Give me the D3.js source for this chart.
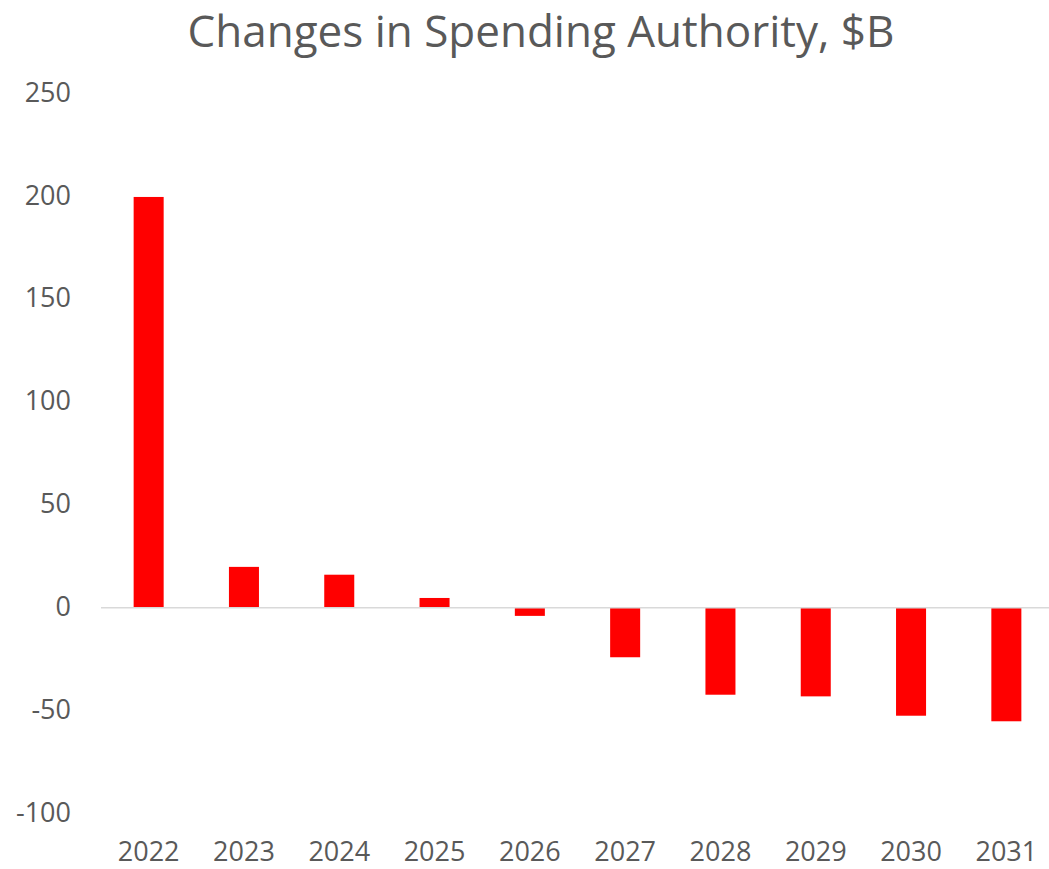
<!DOCTYPE html>
<html>
<head>
<meta charset="utf-8">
<script src="https://cdn.jsdelivr.net/npm/d3@7"></script>
<style>
  html, body { margin: 0; padding: 0; background: #fff; }
  svg { display: block; }
  text { font-family: "Open Sans", "Noto Sans", sans-serif; fill: #595959; }
</style>
</head>
<body>
<div id="chart"></div>
<script>
// Annual change in spending authority, billions of dollars
const years = ["2022", "2023", "2024", "2025", "2026", "2027", "2028", "2029", "2030", "2031"];
const changes = [199.5, 19.8, 16.0, 4.7, -4.0, -24.1, -42.3, -43.1, -52.5, -55.2];
const yTicks = [-100, -50, 0, 50, 100, 150, 200, 250];
const title = "Changes in Spending Authority, $B";

const width = 1049, height = 869;
const plot = { left: 101, right: 1054, top: 93, bottom: 813.5 };

const svg = d3.select("#chart").append("svg")
  .attr("width", width)
  .attr("height", height);

const x = d3.scaleBand()
  .domain(years)
  .range([plot.left, plot.right])
  .paddingInner(0.685)
  .paddingOuter(0.3425);

const y = d3.scaleLinear()
  .domain([-100, 250])
  .range([plot.bottom, plot.top]);

// Title
svg.append("text")
  .attr("x", 541)
  .attr("y", 47)
  .attr("text-anchor", "middle")
  .style("font-size", "44px")
  .text(title);

// Value axis labels (no axis line, no gridlines); plain hyphen for negatives
const yAxis = d3.axisLeft(y)
  .tickValues(yTicks)
  .tickFormat(d => String(d))
  .tickSize(0)
  .tickPadding(0);
const yg = svg.append("g")
  .attr("transform", "translate(71,0)")
  .call(yAxis);
yg.select(".domain").remove();
yg.selectAll("text")
  .style("font-size", "27px")
  .style("fill", "#595959")
  .attr("dy", "0.3em");

// Bars
svg.append("g")
  .selectAll("rect")
  .data(years.map((yr, i) => ({ yr, v: changes[i] })))
  .join("rect")
  .attr("x", d => x(d.yr))
  .attr("width", x.bandwidth())
  .attr("y", d => y(Math.max(0, d.v)))
  .attr("height", d => Math.abs(y(d.v) - y(0)))
  .attr("fill", "#FF0000");

// Zero baseline
svg.append("line")
  .attr("x1", plot.left)
  .attr("x2", plot.right)
  .attr("y1", y(0))
  .attr("y2", y(0))
  .attr("stroke", "#D9D9D9")
  .attr("stroke-width", 1.5);

// Category labels along the bottom
const xAxis = d3.axisBottom(x).tickSize(0).tickPadding(0);
const xg = svg.append("g")
  .attr("transform", "translate(0,861)")
  .call(xAxis);
xg.select(".domain").remove();
xg.selectAll("text")
  .style("font-size", "27px")
  .style("fill", "#595959")
  .attr("dy", "0");
</script>
</body>
</html>
